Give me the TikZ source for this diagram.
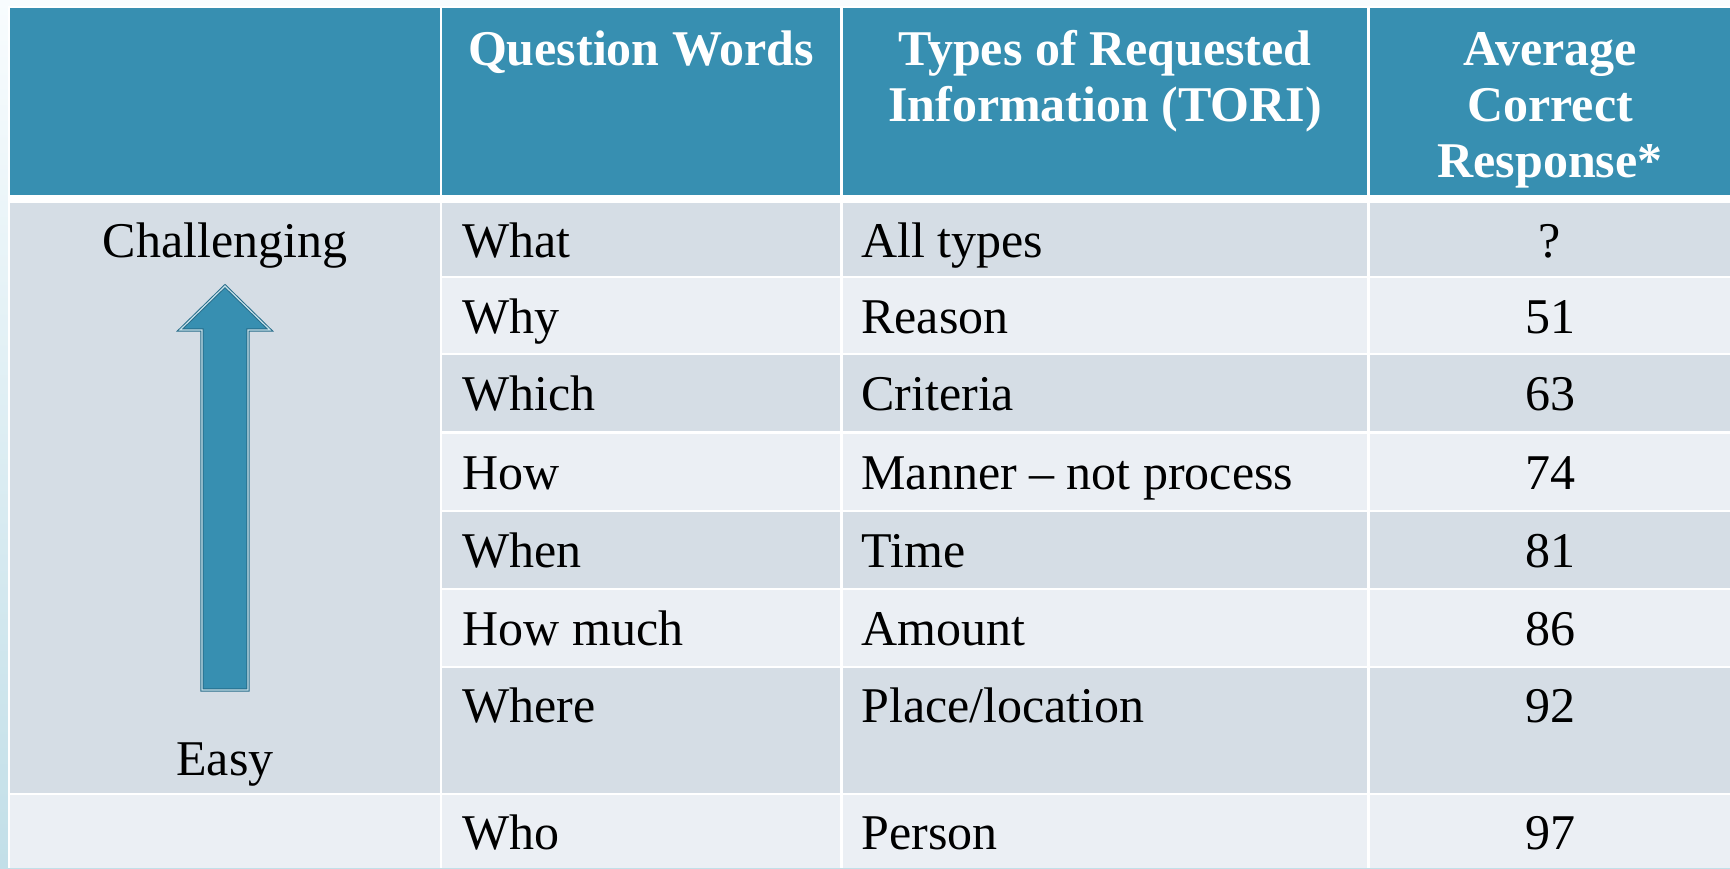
\documentclass[tikz,border=0pt]{standalone}
\usepackage{fontspec}
\setmainfont{Liberation Serif}
\definecolor{hdr}{RGB}{55,143,177}
\definecolor{rowdark}{RGB}{213,221,229}
\definecolor{rowlight}{RGB}{235,239,244}
\definecolor{arrdark}{RGB}{38,108,138}
\definecolor{arrlight}{RGB}{200,226,234}
\definecolor{bgtop}{RGB}{248,252,254}
\definecolor{bgbot}{RGB}{194,223,232}
\begin{document}
\begin{tikzpicture}[x=0.5pt,y=-0.5pt,
  txt/.style={inner sep=0pt,font=\fontsize{25}{28}\selectfont},
  hd/.style={txt,text=white,font=\fontsize{25}{28}\selectfont\bfseries,anchor=base},
  lt/.style={txt,anchor=base west},
  ct/.style={txt,anchor=base}]
\useasboundingbox (0,0) rectangle (1730,868);
% background
\shade[top color=bgtop,bottom color=bgbot] (0,0) rectangle (1730,868);
\fill[white] (8,6) rectangle (1730,868);
% header cells
\fill[hdr] (10,8) rectangle (440,195);
\fill[hdr] (442,8) rectangle (840,195);
\fill[hdr] (843,8) rectangle (1367,195);
\fill[hdr] (1370,8) rectangle (1730,195);
% first column
\fill[rowdark] (10,203) rectangle (440,793);
\fill[rowlight] (10,795) rectangle (440,868);
% body rows
\foreach \t/\b/\c in {203/276/rowdark,278/353/rowlight,355/431/rowdark,434/510/rowlight,512/588/rowdark,590/666/rowlight,668/793/rowdark,795/868/rowlight}{
  \fill[\c] (442,\t) rectangle (840,\b);
  \fill[\c] (843,\t) rectangle (1367,\b);
  \fill[\c] (1370,\t) rectangle (1730,\b);
}
% header text
\node[hd] (hq) at (641,65) {Question Words};
\node[hd] (ht1) at (1105,65) {Types of Requested};
\node[hd] (ht2) at (1105,121) {Information (TORI)};
\node[hd] (ha1) at (1550,65) {Average};
\node[hd] (ha2) at (1550,121) {Correct};
\node[hd] (ha3) at (1550,177) {Response*};
% left column
\node[ct] (chal) at (225,257) {Challenging};
\node[ct] (easy) at (225,775) {Easy};
\draw[fill=hdr,draw=arrdark,line width=0.5pt,double=arrlight,double distance=0.6pt,line join=miter]
  (202,690) -- (202,330) -- (180,330) -- (225,286) -- (270,330) -- (248,330) -- (248,690) -- cycle;
% rows
\foreach \n/\y/\w/\ty/\v in {1/257/What/All types/?,2/333/Why/Reason/51,3/410/Which/Criteria/63,4/489/How/Manner – not process/74,5/567/When/Time/81,6/645/How much/Amount/86,7/722/Where/Place\slash location/92,8/849/Who/Person/97}{
  \node[lt] (w\n) at (462,\y) {\w};
  \node[lt] (t\n) at (861,\y) {\ty};
  \node[ct] (v\n) at (1550,\y) {\v};
}
\end{tikzpicture}
\end{document}
